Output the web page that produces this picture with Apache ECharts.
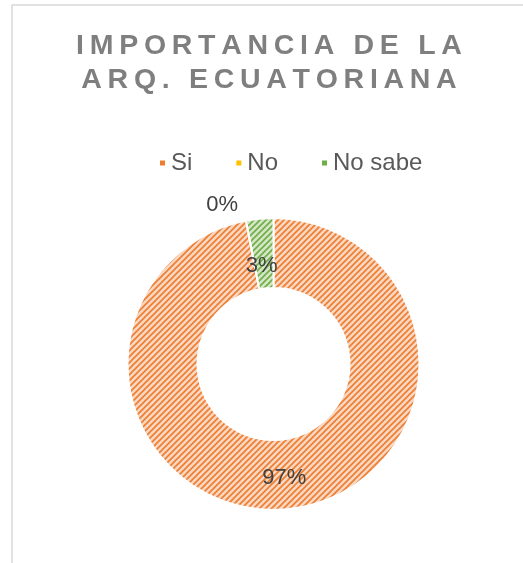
<!DOCTYPE html>
<html>
<head>
<meta charset="utf-8">
<script src="https://cdn.jsdelivr.net/npm/echarts@6/dist/echarts.min.js"></script>
<style>html,body{margin:0;padding:0;background:#fff}#c{width:523px;height:563px}</style>
</head>
<body>
<div id="c"></div>
<script>
const titleLines = ['IMPORTANCIA DE LA', 'ARQ. ECUATORIANA'];
const categories = ['Si', 'No', 'No sabe'];
const values = [97, 0, 3];
const lineColors = ['#ED7D31', '#FFC000', '#70AD47'];
const bgColors = ['#FAD7C0', '#FFEBB3', '#D3E6C6'];

function hatch(line, bg) {
  const s = 6;
  const c = document.createElement('canvas');
  c.width = s; c.height = s;
  const g = c.getContext('2d');
  g.fillStyle = bg; g.fillRect(0, 0, s, s);
  g.strokeStyle = line; g.lineWidth = 1.6;
  g.beginPath();
  g.moveTo(-1, s + 1); g.lineTo(s + 1, -1);
  g.moveTo(-1, 1); g.lineTo(1, -1);
  g.moveTo(s - 1, s + 1); g.lineTo(s + 1, s - 1);
  g.stroke();
  return c;
}

const spaced = titleLines.map(t => t.split('').join('\u2009')).join('\n');
const chart = echarts.init(document.getElementById('c'), null, {renderer: 'canvas'});
chart.setOption({
  animation: false,
  graphic: [{
    type: 'rect', shape: {x: 12, y: 5, width: 620, height: 620},
    style: {fill: 'none', stroke: '#D9D9D9', lineWidth: 1.5}, z: -1
  }, {
    type: 'text', x: 269, y: 29,
    style: {
      text: spaced, align: 'center', verticalAlign: 'top',
      fontFamily: 'Liberation Sans', fontSize: 28.5, fontWeight: 'bold',
      fill: '#7F7F7F', lineHeight: 34
    }
  }],
  legend: {
    left: 153, top: 146, itemWidth: 7, itemHeight: 7, itemGap: 42, icon: 'rect',
    textStyle: {fontFamily: 'Liberation Sans', fontSize: 24, color: '#595959'},
    data: categories.map((n, i) => ({name: n, itemStyle: {color: lineColors[i]}}))
  },
  series: [{
    type: 'pie',
    center: [273.5, 364],
    radius: [76, 146],
    startAngle: 90,
    clockwise: true,
    avoidLabelOverlap: false,
    itemStyle: {borderColor: '#fff', borderWidth: 2},
    label: {
      show: true, position: 'inside',
      fontFamily: 'Liberation Sans', fontSize: 22, color: '#404040',
      formatter: p => p.value + '%'
    },
    labelLine: {show: false},
    emphasis: {disabled: true},
    data: categories.map((n, i) => ({
      name: n, value: values[i],
      itemStyle: {color: {image: hatch(lineColors[i], bgColors[i]), repeat: 'repeat'}},
      label: i === 1 ? {offset: [-30, -47]} : (i === 2 ? {offset: [-1, 15]} : {})
    }))
  }]
});
</script>
</body>
</html>
